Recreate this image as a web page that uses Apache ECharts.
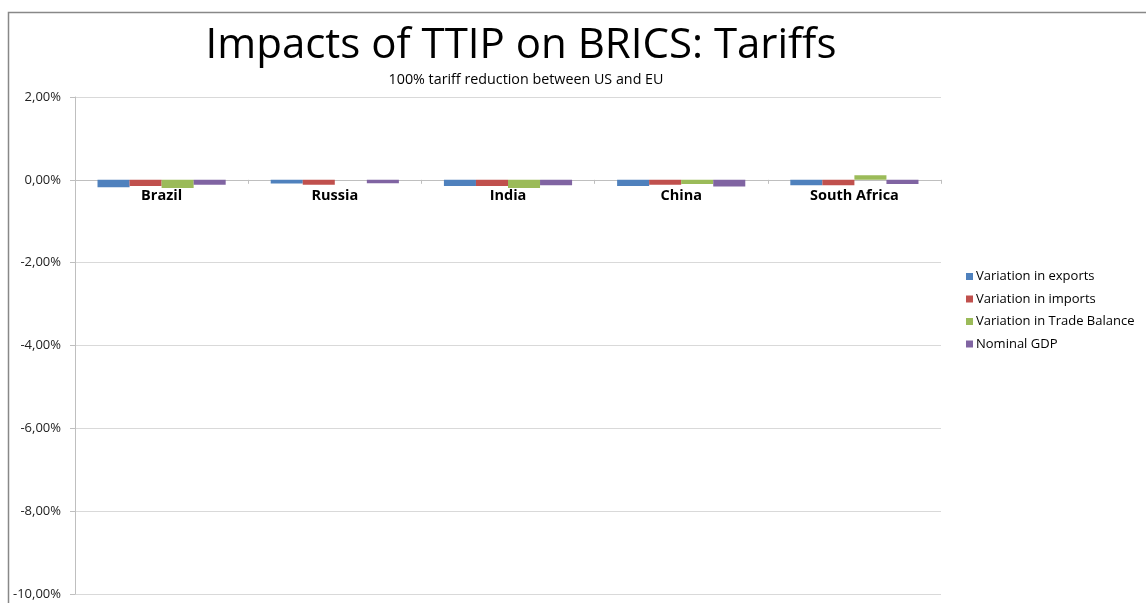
<!DOCTYPE html>
<html><head><meta charset="utf-8">
<script src="https://cdn.jsdelivr.net/npm/echarts@6/dist/echarts.min.js"></script>
<style>html,body{margin:0;padding:0;background:#fff}#c{width:1146px;height:603px}</style>
</head><body><div id="c"></div>
<script>
const categories = ['Brazil', 'Russia', 'India', 'China', 'South Africa'];
const seriesNames = ['Variation in exports', 'Variation in imports', 'Variation in Trade Balance', 'Nominal GDP'];
const exportsVar = [-0.18, -0.09, -0.15, -0.15, -0.13];
const importsVar = [-0.15, -0.12, -0.15, -0.12, -0.13];
const tradeBalanceVar = [-0.20, 0.00, -0.20, -0.10, 0.11];
const nominalGDP = [-0.12, -0.08, -0.13, -0.16, -0.10];
const yMin = -10, yMax = 2, yStep = 2;
const colors = ['#4f81bd', '#c0504d', '#9bbb59', '#8064a2'];
const FONT = 'Open Sans';

const gridTop = 97, gridBottom = 9, H = 603;
const plotH = H - gridTop - gridBottom;
// move the category axis up to the zero line
const zeroOffset = -plotH * (0 - yMin) / (yMax - yMin);

const chart = echarts.init(document.getElementById('c'));
const values = [exportsVar, importsVar, tradeBalanceVar, nominalGDP];
chart.setOption({
  animation: false,
  color: colors,
  title: [
    { text: 'Impacts of TTIP on BRICS: Tariffs', left: 516, textAlign: 'center', top: 20,
      textStyle: { fontFamily: FONT, fontSize: 42, fontWeight: 'normal', color: '#000' } },
    { text: '100% tariff reduction between US and EU', left: 521, textAlign: 'center', top: 68,
      textStyle: { fontFamily: FONT, fontSize: 14.3, fontWeight: 'normal', color: '#000' } }
  ],
  graphic: [{ type: 'rect', shape: { x: 8.5, y: 12.5, width: 1300, height: 800 },
    style: { fill: 'none', stroke: '#888', lineWidth: 1.5 }, silent: true }],
  legend: {
    orient: 'vertical', left: 961, top: 265, itemWidth: 7, itemHeight: 7, itemGap: 9.5,
    icon: 'rect', data: seriesNames,
    textStyle: { fontFamily: FONT, fontSize: 13, color: '#000', padding: [0, 0, 0, -2] }
  },
  grid: { left: 75, right: 205, top: gridTop, bottom: gridBottom, containLabel: false, outerBoundsMode: 'none' },
  xAxis: {
    type: 'category', data: categories, position: 'bottom', offset: zeroOffset,
    axisLine: { onZero: false, lineStyle: { color: '#bfbfbf', width: 1 } },
    axisTick: { show: true, length: 4, lineStyle: { color: '#bfbfbf' } },
    axisLabel: { fontFamily: FONT, fontSize: 14.5, fontWeight: 'bold', color: '#000', margin: 9 },
    splitLine: { show: false }
  },
  yAxis: {
    type: 'value', min: yMin, max: yMax, interval: yStep,
    axisLine: { show: true, lineStyle: { color: '#bfbfbf' } },
    axisTick: { show: true, length: 5, lineStyle: { color: '#bfbfbf' } },
    axisLabel: { fontFamily: FONT, fontSize: 13, color: '#222', margin: 14,
      formatter: v => v.toFixed(2).replace('.', ',') + '%' },
    splitLine: { lineStyle: { color: '#d9d9d9' } }
  },
  series: seriesNames.map((n, i) => ({
    name: n, type: 'bar', data: values[i], barGap: '0%', barCategoryGap: '26%', z: 3
  }))
});
</script></body></html>
